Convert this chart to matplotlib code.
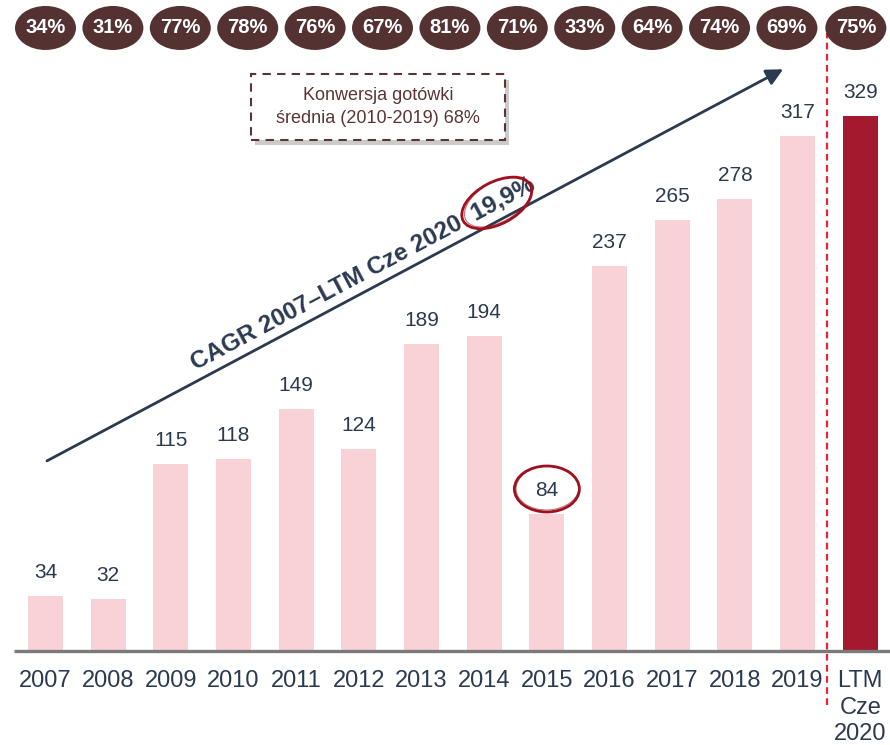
import numpy as np
import matplotlib
matplotlib.use("Agg")
import matplotlib.pyplot as plt
import matplotlib.patheffects as pe
from matplotlib.patches import Ellipse, Rectangle
from matplotlib.transforms import ScaledTranslation

plt.rcParams['font.family'] = ['Liberation Sans', 'DejaVu Sans']

# dane
lata = ['2007', '2008', '2009', '2010', '2011', '2012', '2013', '2014',
        '2015', '2016', '2017', '2018', '2019', 'LTM\nCze\n2020']
wartosci = [34, 32, 115, 118, 149, 124, 189, 194, 84, 237, 265, 278, 317, 329]
konwersja = ['34%', '31%', '77%', '78%', '76%', '67%', '81%', '71%',
             '33%', '64%', '74%', '69%', '75%']
# polozenie kolek z konwersja (w jednostkach osi x)
poz_kolek = [i * 1.0755 for i in range(12)] + [12.93]

ciemny = '#2b3a4f'
braz = '#553232'
rozowy = '#f8d2d7'
bordo = '#a3192e'

fig = plt.figure(figsize=(8.9, 7.45), dpi=100)
ax = fig.add_axes([0, 94 / 745, 1, 651 / 745])
ax.set_xlim(-0.726, 13.475)
ax.set_ylim(0, 400.6)
for s in ax.spines.values():
    s.set_visible(False)
ax.set_yticks([])

x = np.arange(len(lata))
kolory = [rozowy] * (len(lata) - 1) + [bordo]
ax.bar(x, wartosci, width=0.56, color=kolory, zorder=2)
ax.plot([-0.503, 13.475], [0, 0], color='#7a7a7a', lw=2.4, zorder=3,
        clip_on=False, solid_capstyle='butt')

ax.set_xticks(x)
ax.set_xticklabels(lata, fontsize=17, color=ciemny, linespacing=1.25)
ax.tick_params(axis='x', length=0, pad=14)

for xi, v in zip(x, wartosci):
    ax.annotate(str(v), (xi, v), xytext=(0, 17), textcoords='offset points',
                ha='center', va='center', fontsize=15, color=ciemny)


def elipsa_px(xd, yd, w, h, kat=0, **kw):
    # elipsa o rozmiarze w pikselach, srodek w danych
    tr = fig.dpi_scale_trans + ScaledTranslation(xd, yd, ax.transData)
    e = Ellipse((0, 0), w / 100, h / 100, angle=kat, transform=tr,
                clip_on=False, **kw)
    ax.add_patch(e)
    return e


y_kolek = (651 - 28) / 1.625
for xp, t in zip(poz_kolek, konwersja):
    elipsa_px(xp, y_kolek, 61, 44, facecolor=braz, edgecolor='none', zorder=4)
    ax.text(xp, y_kolek, t, ha='center', va='center', color='white',
            fontsize=14.5, fontweight='bold', zorder=5)

# linia przerywana LTM
ax.plot([12.47, 12.47], [-33.2, 380.3], color='#e8243c', lw=1.6,
        dashes=(3, 2), clip_on=False, zorder=3)

# strzalka CAGR
ax.annotate('', xy=(11.77, 358), xytext=(0.024, 117),
            arrowprops=dict(arrowstyle='-|>', color=ciemny, lw=2,
                            mutation_scale=25, shrinkA=0, shrinkB=0),
            zorder=3)
ax.text(5.07, 232.5, 'CAGR 2007\u2013LTM Cze 2020  19,9%', rotation=28,
        rotation_mode='anchor', ha='center', va='center', fontsize=17.5,
        fontweight='bold', color=ciemny, zorder=4)
elipsa_px(7.2, 275.7, 76, 42, kat=28, facecolor='none', edgecolor='#a0101e',
          lw=2, zorder=5)
elipsa_px(7.22, 276.5, 74, 40, kat=30, facecolor='none', edgecolor='#a0101e',
          lw=0.8, alpha=0.6, zorder=5)

# kolko wokol 84
elipsa_px(8.0, (651 - 489) / 1.625, 65, 46, facecolor='none',
          edgecolor='#a0101e', lw=2, zorder=5)
elipsa_px(8.01, (651 - 488) / 1.625, 63, 44, kat=3, facecolor='none',
          edgecolor='#a0101e', lw=0.8, alpha=0.6, zorder=5)

# ramka z konwersja
ramka = Rectangle((3.28, 314.5), 4.05, 40.5, facecolor='white',
                  edgecolor='#5a3535', lw=1.5, linestyle=(0, (4, 3)), zorder=4,
                  path_effects=[pe.SimplePatchShadow(offset=(3, -4),
                                                     shadow_rgbFace='#999999',
                                                     alpha=0.5),
                                pe.Normal()])
ax.add_patch(ramka)
ax.text(5.305, 334.7, 'Konwersja gotówki\nśrednia (2010-2019) 68%',
        ha='center', va='center', fontsize=13, color='#5a3535',
        linespacing=1.5, zorder=5)

fig.savefig('out.png', dpi=100)
